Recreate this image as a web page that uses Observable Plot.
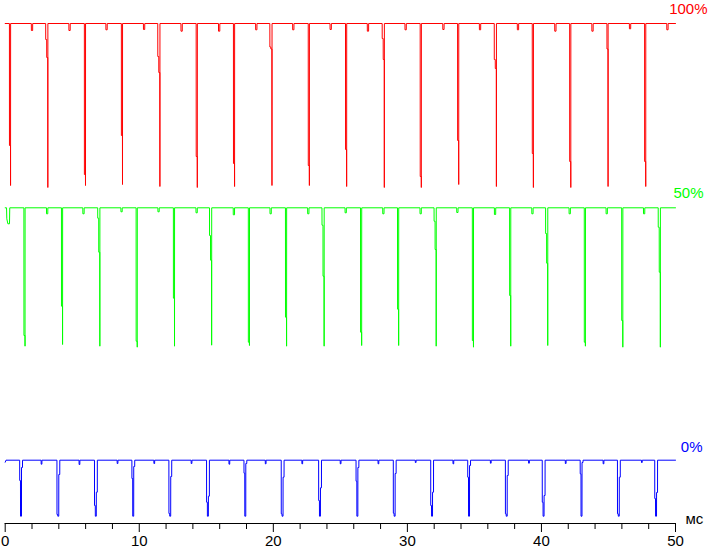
<!DOCTYPE html>
<html><head><meta charset="utf-8">
<script src="https://cdn.jsdelivr.net/npm/d3@7"></script>
<script src="https://cdn.jsdelivr.net/npm/@observablehq/plot@0.6"></script>
<style>
html,body{margin:0;padding:0;background:#fff}
#chart svg{display:block}
</style>
</head><body><div id="chart"></div>
<script>
// ---- axis ----
const tStart = 0, tEnd = 50;
const xTicksMajor = [0, 10, 20, 30, 40, 50];
const xTicksMinor = [2, 4, 6, 8, 12, 14, 16, 18, 22, 24, 26, 28, 32, 34, 36, 38, 42, 44, 46, 48];
const xUnit = "мс";

const seriesNames = ["100%", "50%", "0%"];
const seriesColors = ["#ff0000", "#00ff00", "#0000ff"];

// ---- 100% (red) ----
const redBase = 100.0;
const redDipT = [0.40, 3.18, 5.99, 8.75, 11.54, 14.33, 17.11, 19.90, 22.69, 25.47, 28.28, 31.04, 33.83, 36.64, 39.40, 42.19, 44.97, 47.78];
const redDipMid = [[75.6], [96.8, 93.2], [69.8], [77.6], [93.4, 90.2], [73.4], [72.0], [95.3, 94.9], [71.6], [74.8], [97.0, 92.8], [69.4], [76.6], [92.8, 91.0], [74.0], [72.4], [94.9], [72.4]];
const redDipBottom = [67.6, 67.2, 67.6, 67.8, 67.4, 67.2, 67.4, 67.6, 67.6, 67.4, 67.2, 67.2, 67.8, 67.4, 67.2, 67.2, 67.4, 67.4];
const redBlipT = [2.00, 4.80, 7.56, 10.36, 13.16, 15.96, 18.73, 21.49, 24.28, 27.06, 29.87, 32.69, 35.42, 38.25, 41.04, 43.81, 46.61, 49.40];
const redBlipLevel = [98.6, 98.6, 98.74, 98.8, 98.46, 98.46, 98.74, 98.74, 98.8, 98.46, 98.74, 98.8, 98.74, 98.74, 98.46, 98.46, 98.94, 98.74];

// ---- 50% (green) ----
const greenBase = 63.14;
const greenLeadT = [0.10, 0.12, 0.20, 0.32, 0.34];
const greenLeadV = [63.14, 60.94, 59.94, 59.94, 63.14];
const greenDipT = [1.48, 4.28, 7.06, 9.85, 12.63, 15.40, 18.22, 20.99, 23.79, 26.59, 29.35, 32.15, 34.93, 37.71, 40.47, 43.28, 46.07, 48.87];
const greenDipMid = [[37.6], [43.46], [61.06, 54.26], [36.46], [45.06], [57.6, 52.66], [36.26], [41.26], [59.66, 49.46], [38.26], [42.86], [60.46, 54.8], [36.6], [45.6], [58.0, 52.06], [36.26], [40.6], [59.26, 50.26]];
const greenDipBottom = [35.46, 35.8, 35.46, 35.26, 35.46, 35.66, 35.6, 35.46, 35.46, 35.6, 35.6, 35.46, 35.26, 35.46, 35.6, 35.46, 35.26, 35.26];
const greenBlipT = [3.13, 5.84, 8.68, 11.44, 14.28, 17.06, 19.80, 22.61, 25.40, 28.21, 30.99, 33.73, 36.54, 39.33, 42.11, 44.87, 47.66];
const greenBlipLevel = [61.94, 61.94, 62.34, 62.34, 62.14, 61.74, 61.94, 61.94, 62.14, 61.94, 61.94, 62.2, 61.8, 61.94, 61.94, 61.94, 61.94];

// ---- 0% (blue) ----
const blueBase = 12.66;
const blueLeadT = [0.0, 0.06];
const blueLeadV = [12.26, 12.66];
const blueDipT = [1.18, 3.96, 6.76, 9.55, 12.31, 15.12, 17.91, 20.69, 23.48, 26.27, 29.05, 31.84, 34.60, 37.41, 40.16, 42.99, 45.77, 48.55];
const blueDipMid = [8.6, 1.8, 3.6, 9.0, 2.0, 4.26, 10.06, 1.94, 4.6, 8.46, 2.06, 3.6, 9.26, 1.94, 4.26, 9.94, 1.94, 5.0];
const blueDipBottom = [1.46, 1.46, 1.46, 1.46, 1.46, 1.46, 1.46, 1.46, 1.46, 1.46, 1.46, 1.46, 1.46, 1.46, 1.46, 1.46, 1.46, 1.46];
const blueDipRecover = [11.2, 9.8, 6.26, 11.4, 9.4, 5.46, 12.0, 9.26, 7.14, 11.2, 10.0, 6.26, 11.6, 9.6, 5.6, 12.2, 9.26, 6.2];
const blueBlipT = [2.71, 5.54, 8.38, 11.12, 13.90, 16.72, 19.43, 22.16, 25.02, 27.84, 30.62, 33.43, 36.22, 39.07, 41.81, 44.63, 47.49];
const blueBlipLevel = [11.86, 11.8, 12.0, 12.0, 12.0, 11.86, 11.94, 11.94, 11.94, 11.94, 12.2, 11.94, 12.06, 12.06, 12.0, 11.94, 12.2];

// ---- assemble point lists from the values above ----
function addBlips(pts, base, ts, lv, w) {
  ts.forEach((t, i) => {
    pts.push({t: t - w, v: base}, {t: t - w + 0.003, v: lv[i]}, {t: t + w - 0.003, v: lv[i]}, {t: t + w, v: base});
  });
}
function buildSharp(name, base, lead, dipT, dipMid, dipBottom, blipT, blipLv) {
  const pts = [];
  if (lead) lead[0].forEach((t, i) => pts.push({t, v: lead[1][i]}));
  else pts.push({t: tStart, v: base});
  dipT.forEach((t, i) => {
    const m = dipMid[i];
    if (m.length === 1) {
      pts.push({t: t - 0.085, v: base}, {t: t - 0.082, v: m[0]}, {t: t - 0.004, v: m[0]});
    } else {
      pts.push({t: t - 0.16, v: base}, {t: t - 0.157, v: m[0]}, {t: t - 0.085, v: m[0]}, {t: t - 0.082, v: m[1]}, {t: t - 0.004, v: m[1]});
    }
    pts.push({t, v: dipBottom[i]}, {t: t + 0.004, v: base});
  });
  addBlips(pts, base, blipT, blipLv, 0.05);
  pts.push({t: tEnd, v: base});
  pts.sort((a, b) => a.t - b.t);
  return pts.map(p => ({...p, series: name}));
}
function buildBlue(name, base) {
  const pts = [];
  blueLeadT.forEach((t, i) => pts.push({t, v: blueLeadV[i]}));
  blueDipT.forEach((t, i) => {
    pts.push(
      {t: t - 0.1, v: base}, {t: t - 0.097, v: blueDipMid[i]}, {t: t - 0.04, v: blueDipMid[i]},
      {t: t - 0.037, v: blueDipBottom[i]}, {t: t + 0.035, v: blueDipBottom[i]},
      {t: t + 0.038, v: blueDipRecover[i]}, {t: t + 0.11, v: blueDipRecover[i]}, {t: t + 0.113, v: base}
    );
  });
  addBlips(pts, base, blueBlipT, blueBlipLevel, 0.03);
  pts.push({t: tEnd, v: base});
  pts.sort((a, b) => a.t - b.t);
  return pts.map(p => ({...p, series: name}));
}

const red = buildSharp(seriesNames[0], redBase, null, redDipT, redDipMid, redDipBottom, redBlipT, redBlipLevel);
const green = buildSharp(seriesNames[1], greenBase, [[tStart, ...greenLeadT], [greenBase, ...greenLeadV]], greenDipT, greenDipMid, greenDipBottom, greenBlipT, greenBlipLevel);
const blue = buildBlue(seriesNames[2], blueBase);
const bases = [redBase, greenBase, blueBase];
const labelDx = [32, 28, 27];
const labelDy = [-14.5, -15, -13.5];

const font = "'Liberation Sans', Arial, sans-serif";
const lineStyle = {strokeWidth: 1, strokeLinejoin: "miter", style: "shape-rendering:crispEdges"};

const plot = Plot.plot({
  width: 708,
  height: 551,
  marginLeft: 4.7,
  marginRight: 33,
  marginTop: 23,
  marginBottom: 28,
  style: {fontFamily: font, fontSize: "15px", background: "#fff", color: "#000"},
  x: {domain: [tStart, tEnd]},
  y: {domain: [0, 100], axis: null},
  marks: [
    Plot.ruleY([0], {stroke: "#000"}),
    Plot.axisX({ticks: xTicksMinor, tickSize: 6, tickFormat: () => "", label: null, stroke: "#000"}),
    Plot.axisX({ticks: xTicksMajor, tickSize: 9, tickPadding: 3, tickFormat: d => String(d), label: null, fontSize: 15, fill: "#000", stroke: "#000"}),
    Plot.text([xUnit], {frameAnchor: "bottom-right", dx: 10, dy: 0, textAnchor: "start", fontSize: 15, fill: "#000"}),
    Plot.line(red, {x: "t", y: "v", stroke: seriesColors[0], ...lineStyle}),
    Plot.line(green, {x: "t", y: "v", stroke: seriesColors[1], ...lineStyle}),
    Plot.line(blue, {x: "t", y: "v", stroke: seriesColors[2], ...lineStyle}),
    ...seriesNames.map((name, i) => Plot.text([{t: tEnd, v: bases[i], name}], {
      x: "t", y: "v", text: "name", fill: seriesColors[i], textAnchor: "end",
      dx: labelDx[i], dy: labelDy[i], fontSize: 15
    }))
  ]
});
document.getElementById("chart").appendChild(plot);
</script>
</body></html>
